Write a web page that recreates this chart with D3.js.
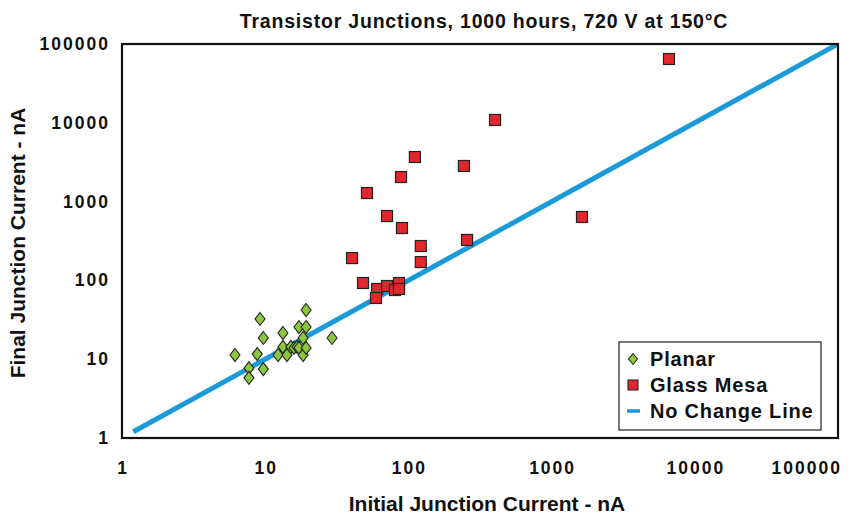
<!DOCTYPE html>
<html><head><meta charset="utf-8">
<script src="https://cdn.jsdelivr.net/npm/d3@7"></script>
<style>body{margin:0;background:#fff}svg{display:block}text{font-family:"Liberation Sans",Arial,sans-serif;font-weight:bold;fill:#111}</style>
</head><body>
<svg id="c" width="856" height="515"></svg>
<script>
const planarX = [6.15,7.7,7.7,8.8,9.2,9.7,9.7,12.3,13.3,13.3,14.2,15.1,15.9,16.7,17.2,17.2,18.4,18.4,19.3,19.3,19.3,29.3];
const planarY = [11.3,7.7,5.8,11.6,32.4,18.6,7.5,11.3,21.5,14.3,11.3,14.3,13.9,14.3,25.6,13.9,18.6,11.3,42.1,25.6,13.9,18.6];
const mesaX = [6600,403,111,244,88.8,51.4,70.9,90.2,122,257,122,40.4,48.2,60.4,59.4,70.9,80.6,86,86,1630];
const mesaY = [64500,10860,3680,2830,2050,1285,656,462,273,326,171,192,92.7,77.8,59.8,84.9,75.5,92.7,77.8,638];
const lineX = [1.2,100000];
const tickVals = [1,10,100,1000,10000,100000];
const tickLabels = ["1","10","100","1000","10000","100000"];
const legendLabels = ["Planar","Glass Mesa","No Change Line"];

const L=122,R=838,T=44,B=438;
const svg=d3.select("#c");
const x=d3.scaleLog().domain([1,100000]).range([L,R]);
const y=d3.scaleLog().domain([1,100000]).range([B,T]);

svg.append("text").attr("x",484).attr("y",28).attr("text-anchor","middle")
 .style("font-size","19.5px").style("letter-spacing","0.8px")
 .text("Transistor Junctions, 1000 hours, 720 V at 150°C");

// y ticks
svg.append("g").selectAll("text").data(tickVals).join("text")
 .attr("x",110).attr("y",d=>y(d)+6).attr("text-anchor","end")
 .style("font-size","17.5px").style("letter-spacing","2px")
 .text((d,i)=>tickLabels[i]);
// x ticks
svg.append("g").selectAll("text").data(tickVals).join("text")
 .attr("x",(d,i)=>i===5?842:x(d)+1).attr("y",474).attr("text-anchor",(d,i)=>i===5?"end":"middle")
 .style("font-size","17.5px").style("letter-spacing","2px")
 .text((d,i)=>tickLabels[i]);

svg.append("text").attr("x",487).attr("y",511).attr("text-anchor","middle").style("font-size","21px").text("Initial Junction Current - nA");
svg.append("text").attr("transform","translate(25,243) rotate(-90)").attr("text-anchor","middle").style("font-size","21px").text("Final Junction Current - nA");

svg.append("clipPath").attr("id","pc").append("rect").attr("x",L).attr("y",T).attr("width",R-L).attr("height",B-T);

svg.append("path").attr("clip-path","url(#pc)")
 .attr("d",d3.line().x(d=>x(d)).y(d=>y(d))(lineX))
 .attr("stroke","#1a9ad8").attr("stroke-width",5).attr("fill","none");

const mesa=mesaX.map((v,i)=>[v,mesaY[i]]);
svg.append("g").selectAll("rect").data(mesa).join("rect")
 .attr("x",d=>x(d[0])-5.5).attr("y",d=>y(d[1])-5.5).attr("width",11).attr("height",11)
 .attr("fill","#e3262e").attr("stroke","#222").attr("stroke-width",1.2);

const planar=planarX.map((v,i)=>[v,planarY[i]]);
const dia="M0,-6.5L5,0L0,6.5L-5,0Z";
svg.append("g").selectAll("path").data(planar).join("path")
 .attr("transform",d=>`translate(${x(d[0])},${y(d[1])})`).attr("d",dia)
 .attr("fill","#8cc63e").attr("stroke","#222").attr("stroke-width",1.1);

svg.append("rect").attr("x",L).attr("y",T).attr("width",R-L).attr("height",B-T)
 .attr("fill","none").attr("stroke","#111").attr("stroke-width",2.2);

// legend
const lg=svg.append("g");
lg.append("rect").attr("x",619).attr("y",342).attr("width",202).attr("height",88).attr("fill","#fff").attr("stroke","#222").attr("stroke-width",1.2);
const ly=[359,385,411];
lg.append("path").attr("transform",`translate(633,${ly[0]})`).attr("d","M0,-5.5L4.5,0L0,5.5L-4.5,0Z").attr("fill","#8cc63e").attr("stroke","#222").attr("stroke-width",1.1);
lg.append("rect").attr("x",628).attr("y",ly[1]-5).attr("width",10).attr("height",10).attr("fill","#e3262e").attr("stroke","#222").attr("stroke-width",1.1);
lg.append("line").attr("x1",627).attr("x2",640).attr("y1",ly[2]).attr("y2",ly[2]).attr("stroke","#1a9ad8").attr("stroke-width",3.5);
lg.selectAll("text").data(legendLabels).join("text").attr("x",650).attr("y",(d,i)=>ly[i]+7)
 .style("font-size","20px").style("letter-spacing","0.8px").text(d=>d);
</script>
</body></html>
